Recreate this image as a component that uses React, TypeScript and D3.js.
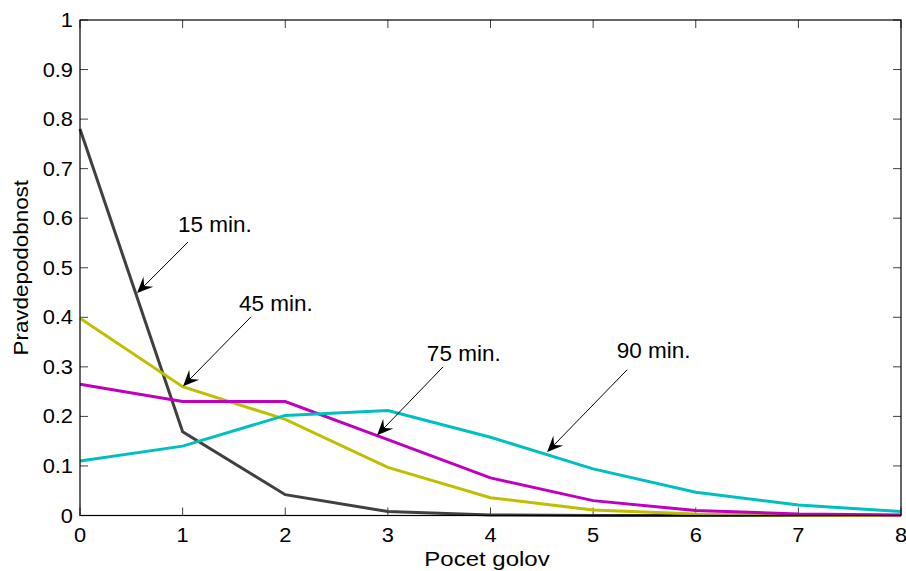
import React from "react";
import * as d3 from "d3";

const goals = [0, 1, 2, 3, 4, 5, 6, 7, 8];
const p15 = [0.78, 0.169, 0.042, 0.008, 0.001, 0.0, 0.0, 0.0, 0.0];
const p45 = [0.398, 0.26, 0.194, 0.097, 0.036, 0.011, 0.003, 0.001, 0.0];
const p75 = [0.265, 0.23, 0.23, 0.153, 0.076, 0.03, 0.01, 0.003, 0.001];
const p90 = [0.11, 0.14, 0.202, 0.212, 0.158, 0.094, 0.047, 0.021, 0.008];
const xTicks = [0, 1, 2, 3, 4, 5, 6, 7, 8];
const yTicks = [0, 0.1, 0.2, 0.3, 0.4, 0.5, 0.6, 0.7, 0.8, 0.9, 1];
const seriesNames = ["15 min.", "45 min.", "75 min.", "90 min."];
const seriesColors = ["#404040", "#bfbf00", "#bf00bf", "#00bfbf"];
// annotation: text position, arrow tail, arrow head (data coords)
const annText = [[0.955, 0.573], [1.55, 0.413], [3.38, 0.312], [5.23, 0.317]];
const annTail = [[1.053, 0.552], [1.667, 0.401], [3.538, 0.3], [5.331, 0.294]];
const annHead = [[0.556, 0.449], [1.004, 0.261], [2.895, 0.162], [4.552, 0.128]];

const W = 906, H = 571;
const L = 80, R = 901, T = 20, B = 515.5;
const FONT = "'Liberation Sans', Arial, sans-serif";

function Txt(props: {
  x: number; y: number; anchor?: string; rotate?: number; fs: number; sx: number; children: React.ReactNode;
}) {
  const { x, y, anchor = "start", rotate = 0, fs, sx } = props;
  return (
    <text
      transform={`translate(${x},${y}) rotate(${rotate}) scale(${sx},1)`}
      textAnchor={anchor}
      fontFamily={FONT}
      fontSize={fs}
      fill="#000"
    >
      {props.children}
    </text>
  );
}

export default function App() {
  const x = d3.scaleLinear().domain([0, 8]).range([L, R]);
  const y = d3.scaleLinear().domain([0, 1]).range([B, T]);
  const series = [p15, p45, p75, p90];
  const line = d3.line<number>().x((_, i) => x(goals[i])).y((d) => y(d));
  const tl = 8;

  const arrow = (i: number) => {
    const [tx, ty] = [x(annTail[i][0]), y(annTail[i][1])];
    const [hx, hy] = [x(annHead[i][0]), y(annHead[i][1])];
    const ang = Math.atan2(hy - ty, hx - tx);
    const len = 16, wid = 7, notch = 10;
    const ux = Math.cos(ang), uy = Math.sin(ang);
    const px = -uy, py = ux;
    const bx = hx - ux * len, by = hy - uy * len;
    const nx = hx - ux * notch, ny = hy - uy * notch;
    const pts = [
      [hx, hy],
      [bx + px * wid, by + py * wid],
      [nx, ny],
      [bx - px * wid, by - py * wid],
    ];
    return (
      <g key={"a" + i}>
        <line x1={tx} y1={ty} x2={nx} y2={ny} stroke="#000" strokeWidth={1} />
        <polygon points={pts.map((p) => p.join(",")).join(" ")} fill="#000" />
      </g>
    );
  };

  return (
    <svg width={W} height={H} style={{ position: "absolute", left: 0, top: 0, background: "#fff" }}>
      <rect x={0} y={0} width={W} height={H} fill="#fff" />
      {xTicks.map((t) => (
        <g key={"xt" + t}>
          <line x1={x(t)} x2={x(t)} y1={B} y2={B - tl} stroke="#404040" strokeWidth={1} />
          <line x1={x(t)} x2={x(t)} y1={T} y2={T + tl} stroke="#404040" strokeWidth={1} />
          <Txt x={x(t)} y={542} anchor="middle" fs={19.5} sx={1.12}>{t}</Txt>
        </g>
      ))}
      {yTicks.map((t) => (
        <g key={"yt" + t}>
          <line x1={L} x2={L + tl} y1={y(t)} y2={y(t)} stroke="#404040" strokeWidth={1} />
          <line x1={R} x2={R - tl} y1={y(t)} y2={y(t)} stroke="#404040" strokeWidth={1} />
          <Txt x={73} y={y(t) + 7} anchor="end" fs={19.5} sx={1.12}>
            {t === 0 || t === 1 ? String(t) : t.toFixed(1)}
          </Txt>
        </g>
      ))}
      {series.map((s, i) => (
        <path key={"s" + i} d={line(s) || ""} fill="none" stroke={seriesColors[i]} strokeWidth={3} strokeLinejoin="miter" />
      ))}
      <rect x={L} y={T} width={R - L} height={B - T} fill="none" stroke="#000" strokeWidth={1.2} />
      {seriesNames.map((n, i) => (
        <Txt key={"t" + i} x={x(annText[i][0])} y={y(annText[i][1])} fs={22.5} sx={1}>{n}</Txt>
      ))}
      {seriesNames.map((_, i) => arrow(i))}
      <Txt x={487} y={566} anchor="middle" fs={20} sx={1.2}>Pocet golov</Txt>
      <Txt x={28} y={(T + B) / 2} anchor="middle" rotate={-90} fs={20} sx={1.12}>Pravdepodobnost</Txt>
    </svg>
  );
}
